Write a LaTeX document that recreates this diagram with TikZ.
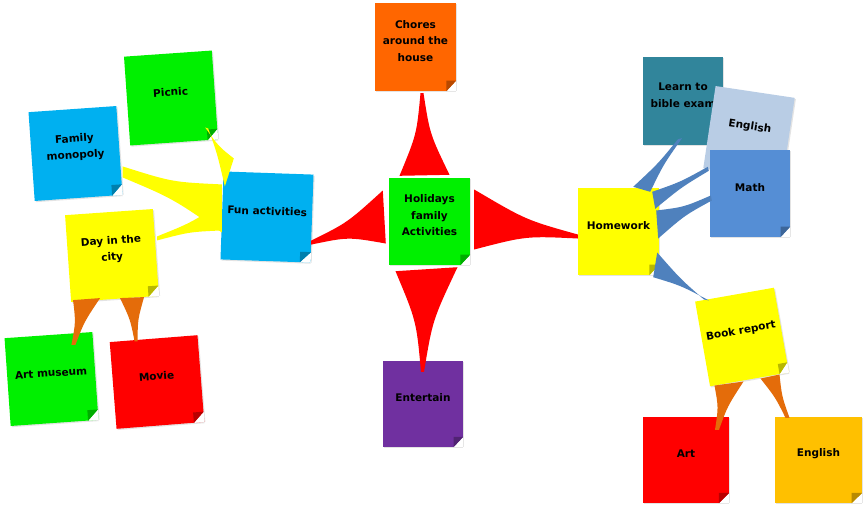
\documentclass[tikz,border=0pt]{standalone}
\usepackage{fontspec}
\setmainfont{DejaVu Sans}
\usetikzlibrary{calc,shadows}
\definecolor{cOrange}{RGB}{255,102,0}
\definecolor{cGreen}{RGB}{0,240,0}
\definecolor{cSky}{RGB}{0,176,240}
\definecolor{cYellow}{RGB}{255,255,0}
\definecolor{cRed}{RGB}{255,0,0}
\definecolor{cPurple}{RGB}{112,48,160}
\definecolor{cTeal}{RGB}{49,133,155}
\definecolor{cLight}{RGB}{185,205,229}
\definecolor{cMath}{RGB}{85,142,213}
\definecolor{cAmber}{RGB}{255,192,0}
\definecolor{cConn}{RGB}{79,129,189}
\definecolor{cOrange2}{RGB}{228,108,10}
\tikzset{
  notebody/.style={inner sep=0pt, draw=none,
    drop shadow={shadow xshift=1.2pt, shadow yshift=-1.2pt, opacity=0.22}},
  notetext/.style={inner sep=0pt, align=center, text=black,
    font=\fontsize{10.5}{16.5}\selectfont\bfseries}
}
\newcommand\stickynote[7]{%
  \node[notebody, fill=#6, rotate=#3, minimum width=#4pt, minimum height=#5pt] (#1) at #2 {};
  \coordinate (#1-a) at ($(#1.south east)!0.12!(#1.south west)$);
  \coordinate (#1-b) at ($(#1.south east)!0.12!(#1.north east)$);
  \coordinate (#1-m) at ($(#1-a)!0.5!(#1-b)$);
  \fill[white] (#1-a) -- ($(#1-a)!1.4!(#1.south east)$) -- ($(#1-m)!1.9!(#1.south east)$)
     -- ($(#1-b)!1.4!(#1.south east)$) -- (#1-b) -- cycle;
  \fill[#6!72!black] (#1-a) -- (#1-b) -- ($(#1-a)+(#1-b)-(#1.south east)$) -- cycle;
  \node[notetext, rotate=#3] (#1-t) at ($(#1.center)!6pt!(#1.north)$) {#7};
}
\newcommand\taper[6]{%
  \coordinate (tA) at #2; \coordinate (tB) at #3;
  \coordinate (tT) at #4; \coordinate (tU) at #5;
  \coordinate (tM) at ($(tT)!0.5!(tU)$);
  \coordinate (tN) at ($(tA)!0.5!(tB)$);
  \coordinate (tQ) at ($(tN)!0.5!(tM)$);
  \coordinate (tP) at ($(tA)!0.5!(tT)$);
  \coordinate (tR) at ($(tB)!0.5!(tU)$);
  \coordinate (tCa) at ($(tP)!#6!(tQ)$);
  \coordinate (tCb) at ($(tR)!#6!(tQ)$);
  \fill[#1] (tA) .. controls (tCa) .. (tT) -- (tU) .. controls (tCb) .. (tB) -- cycle;
}
\begin{document}
\begin{tikzpicture}[x=1pt,y=-1pt]
\useasboundingbox (0,0) rectangle (868,509);
\fill[white] (0,0) rectangle (868,509);

% notes
\stickynote{cho}{(415.5,47)}{0}{81}{88}{cOrange}{Chores\\around the\\house}
\stickynote{hol}{(429.5,221.5)}{0}{81}{87}{cGreen}{Holidays\\family\\Activities}
\stickynote{pic}{(171,98)}{4}{88}{89}{cGreen}{Picnic}
\stickynote{mono}{(75.5,153.5)}{4}{88}{89}{cSky}{Family\\monopoly}
\stickynote{fun}{(267,217)}{-2}{90}{88}{cSky}{Fun activities}
\stickynote{day}{(112,255.5)}{4}{88}{87}{cYellow}{Day in the\\city}
\stickynote{artm}{(51.5,379)}{4}{88}{88}{cGreen}{Art museum}
\stickynote{mov}{(157,382)}{4.5}{88}{87}{cRed}{Movie}
\stickynote{ent}{(423,404)}{0}{80}{86}{cPurple}{Entertain}
\stickynote{hw}{(618.5,231.5)}{0}{81}{87}{cYellow}{Homework}
\stickynote{learn}{(683,101)}{0}{80}{88}{cTeal}{Learn to\\bible exam}
\stickynote{eng1}{(749,133)}{-8.5}{80}{83}{cLight}{English}
\stickynote{math}{(750,193.5)}{0}{80}{87}{cMath}{Math}
\stickynote{book}{(742,337)}{10}{80}{86}{cYellow}{Book report}
\stickynote{art}{(686,460)}{0}{86}{86}{cRed}{Art}
\stickynote{eng2}{(818.5,460)}{0}{87}{86}{cAmber}{English}

% red connectors
\taper{cRed}{($(hol.north)+(-30,-2)$)}{($(hol.north)+(20,-3)$)}{($(cho.south)+(5,2)$)}{($(cho.south)+(8,2)$)}{0.5}
\taper{cRed}{($(hol.west)+(-6,-31)$)}{($(hol.west)+(-3,22)$)}{($(fun.east)+(-1,22)$)}{($(fun.east)+(-1,26)$)}{0.5}
\taper{cRed}{($(hol.east)+(4,-32)$)}{($(hol.east)+(4,28)$)}{($(hw.west)+(0,3)$)}{($(hw.west)+(0,7)$)}{0.5}
\taper{cRed}{($(hol.south)+(-34,6)$)}{($(hol.south)+(28,2)$)}{($(ent.north)+(-2,11)$)}{($(ent.north)+(1,11)$)}{0.5}

% yellow connectors
\taper{cYellow}{($(fun.west)+(12,-57)$)}{($(fun.west)+(3,-29)$)}{($(pic.south east)+(-13,-12)$)}{($(pic.south east)+(-10,-11)$)}{0.5}
\taper{cYellow}{($(fun.west)+(0,-31)$)}{($(fun.west)+(0,17)$)}{($(mono.east)+(3,16)$)}{($(mono.east)+(3,27)$)}{0.45}
\taper{cYellow}{($(fun.west)+(0,-12)$)}{($(fun.west)+(0,15)$)}{($(day.east)+(1,-16)$)}{($(day.east)+(1,-12)$)}{0.45}

% blue connectors
\taper{cConn}{($(hw.north east)+(-26,-1)$)}{($(hw.north east)+(-9,4)$)}{($(learn.south)+(-5,-6)$)}{($(learn.south)+(-1,-7)$)}{0.5}
\taper{cConn}{($(hw.north east)+(-7,4)$)}{($(hw.north east)+(-4,21)$)}{($(math.north west)+(-2,17)$)}{($(math.north west)+(-1,21)$)}{0.5}
\taper{cConn}{($(hw.east)+(-3,-21)$)}{($(hw.east)+(-1,7)$)}{($(math.west)+(1,2)$)}{($(math.west)+(2,7)$)}{0.5}
\taper{cConn}{($(hw.east)+(-2,21)$)}{($(hw.south east)+(-6,2)$)}{($(book.north west)+(9,-2)$)}{($(book.north west)+(14,-1)$)}{0.5}

% orange connectors
\taper{cOrange2}{($(day.south)+(-42,1)$)}{($(day.south)+(-15,-1)$)}{($(artm.north)+(23,10)$)}{($(artm.north)+(27,10)$)}{0.45}
\taper{cOrange2}{($(day.south)+(5,-1)$)}{($(day.south)+(29,-2)$)}{($(mov.north)+(-19,3)$)}{($(mov.north)+(-16,3)$)}{0.45}
\taper{cOrange2}{($(book.south)+(-35,6)$)}{($(book.south)+(-6,2)$)}{($(art.north)+(29,13)$)}{($(art.north)+(33,13)$)}{0.45}
\taper{cOrange2}{($(book.south)+(11,-1)$)}{($(book.south)+(30,-5)$)}{($(eng2.north)+(-33,1)$)}{($(eng2.north)+(-29,1)$)}{0.45}
\end{tikzpicture}
\end{document}
